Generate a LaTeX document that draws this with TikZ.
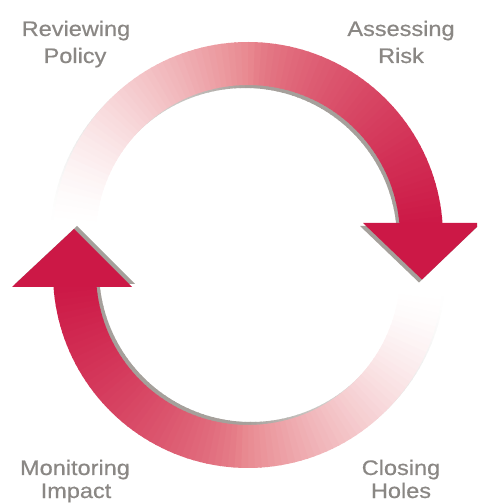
\documentclass[tikz,border=0pt]{standalone}
\usepackage{fontspec}
\newfontfamily\lblfont[FakeStretch=1.12,FakeBold=0.6]{Liberation Sans}
\definecolor{crim}{RGB}{204,24,70}
\definecolor{salm}{RGB}{232,136,143}
\definecolor{shad}{RGB}{165,160,155}
\definecolor{txt}{RGB}{138,135,132}
\tikzset{lbl/.style={font=\lblfont\fontsize{21}{25}\selectfont, text=txt, anchor=base, inner sep=0pt}}
\begin{document}
\begin{tikzpicture}[x=1pt,y=1pt]
\path[use as bounding box, clip] (0,0) rectangle (477,503);

% ---- top arc: shadow then body ----
\begin{scope}[shift={(245,263)}]
\foreach \i in {0,...,85} {
  \pgfmathsetmacro\aa{176-2*\i}
  \pgfmathsetmacro\ab{\aa-2.4}
  \pgfmathsetmacro\u{(176-\aa)/171.5}
  \pgfmathsetmacro\f{100*min(1,pow(max(2*\u,0.001),1.4))}
  \fill[shad!\f!white] (\aa:195pt) arc[start angle=\aa, end angle=\ab, radius=195pt] -- (\ab:152pt) arc[start angle=\ab, end angle=\aa, radius=152pt] -- cycle;
}
\end{scope}
\begin{scope}[shift={(248,266)}]
\foreach \i in {0,...,85} {
  \pgfmathsetmacro\aa{176-2*\i}
  \pgfmathsetmacro\ab{\aa-2.4}
  \pgfmathsetmacro\u{(176-\aa)/171.5}
  \pgfmathsetmacro\pa{100*min(1,pow(max(2*\u,0.001),1.4))}
  \pgfmathsetmacro\pc{100-(\u>0.5)*100*pow(max(2*\u-1,0.001),0.7)}
  \fill[salm!\pa!white!\pc!crim] (\aa:195pt) arc[start angle=\aa, end angle=\ab, radius=195pt] -- (\ab:152pt) arc[start angle=\ab, end angle=\aa, radius=152pt] -- cycle;
}
\end{scope}

% ---- bottom arc: shadow then body ----
\begin{scope}[shift={(251,233)}]
\foreach \i in {0,...,84} {
  \pgfmathsetmacro\aa{354-2*\i}
  \pgfmathsetmacro\ab{\aa-2.4}
  \pgfmathsetmacro\u{(354-\aa)/169.5}
  \pgfmathsetmacro\f{100*min(1,pow(max(2*\u,0.001),1.4))}
  \fill[shad!\f!white] (\aa:195pt) arc[start angle=\aa, end angle=\ab, radius=195pt] -- (\ab:152pt) arc[start angle=\ab, end angle=\aa, radius=152pt] -- cycle;
}
\end{scope}
\begin{scope}[shift={(248,230)}]
\foreach \i in {0,...,84} {
  \pgfmathsetmacro\aa{354-2*\i}
  \pgfmathsetmacro\ab{\aa-2.4}
  \pgfmathsetmacro\u{(354-\aa)/169.5}
  \pgfmathsetmacro\pa{100*min(1,pow(max(2*\u,0.001),1.4))}
  \pgfmathsetmacro\pc{100-(\u>0.5)*100*pow(max(2*\u-1,0.001),0.7)}
  \fill[salm!\pa!white!\pc!crim] (\aa:195pt) arc[start angle=\aa, end angle=\ab, radius=195pt] -- (\ab:152pt) arc[start angle=\ab, end angle=\aa, radius=152pt] -- cycle;
}
\end{scope}

% ---- arrowheads ----
\fill[shad] (360,277) -- (478,277) -- (419,220.5) -- cycle;
\fill[crim] (363,280) -- (481,280) -- (422,223.5) -- cycle;
\fill[shad] (15,219) -- (135,219) -- (77,277) -- cycle;
\fill[crim] (12,216) -- (132,216) -- (74,274) -- cycle;

% ---- labels ----
\node[lbl] (rev1) at (76,467) {Reviewing};
\node[lbl] (rev2) at (75,440) {Policy};
\node[lbl] (ass1) at (401,467) {Assessing};
\node[lbl] (ass2) at (401,440) {Risk};
\node[lbl] (mon1) at (75,28) {Monitoring};
\node[lbl] (mon2) at (76,5) {Impact};
\node[lbl] (clo1) at (401,28) {Closing};
\node[lbl] (clo2) at (401,5) {Holes};
\end{tikzpicture}
\end{document}
